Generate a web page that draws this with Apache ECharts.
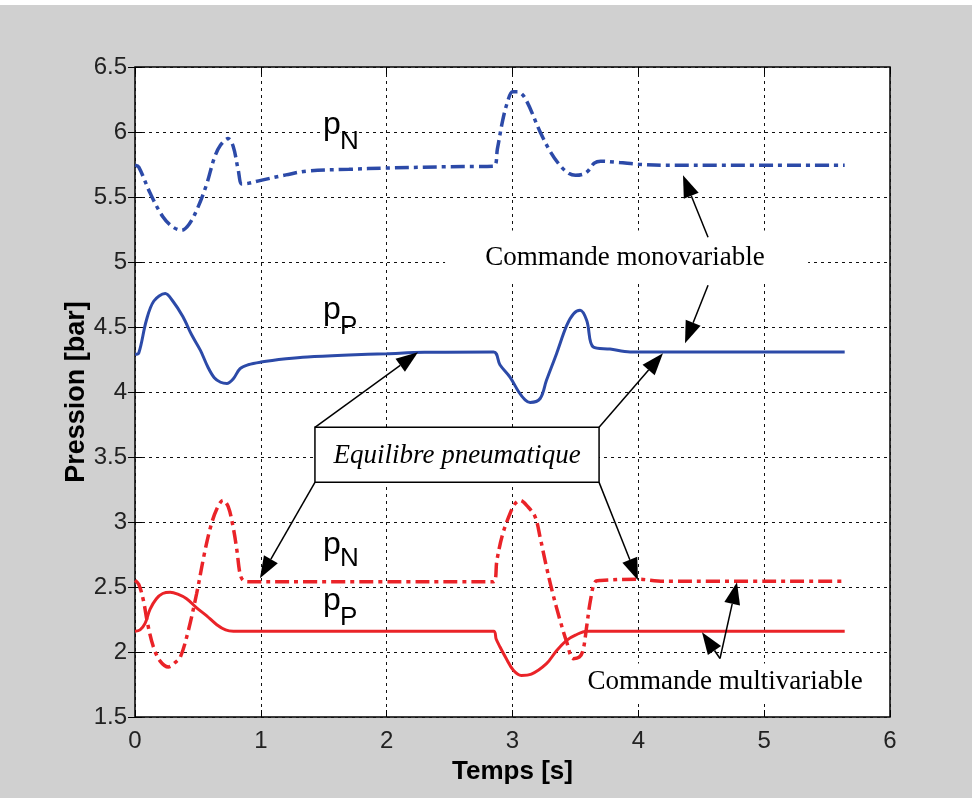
<!DOCTYPE html>
<html><head><meta charset="utf-8">
<script src="https://cdn.jsdelivr.net/npm/echarts@6/dist/echarts.min.js"></script>
<style>html,body{margin:0;padding:0;background:#fff;}#c{width:972px;height:798px;}</style>
</head><body><div id="c"></div>
<script>
// ---- data (time [s], pressure [bar]) ----
const xTicks = [0, 1, 2, 3, 4, 5, 6];
const yTicks = [1.5, 2, 2.5, 3, 3.5, 4, 4.5, 5, 5.5, 6, 6.5];

const monoPN = [[0,5.744],[0.03,5.73],[0.12,5.53],[0.22,5.35],[0.3,5.27],[0.37,5.244],[0.43,5.29],[0.5,5.42],[0.57,5.60],[0.63,5.80],[0.68,5.90],[0.74,5.95],[0.78,5.89],[0.82,5.71],[0.85,5.60],[0.9,5.605],[1.0,5.628],[1.2,5.67],[1.37,5.70],[1.7,5.713],[2.0,5.723],[2.5,5.733],[2.85,5.737],[2.88,5.87],[2.92,6.08],[2.96,6.23],[3.0,6.31],[3.04,6.31],[3.1,6.26],[3.22,6.0],[3.3,5.85],[3.38,5.74],[3.45,5.68],[3.5,5.667],[3.56,5.675],[3.6,5.70],[3.65,5.76],[3.7,5.775],[3.85,5.765],[4.0,5.752],[4.23,5.744],[5.64,5.744]];

const monoPP = [[0,4.29],[0.03,4.30],[0.09,4.55],[0.15,4.70],[0.24,4.757],[0.3,4.70],[0.38,4.58],[0.45,4.44],[0.52,4.32],[0.58,4.19],[0.63,4.11],[0.68,4.075],[0.73,4.065],[0.78,4.10],[0.835,4.18],[0.9,4.21],[1.0,4.23],[1.2,4.255],[1.37,4.27],[1.7,4.285],[2.0,4.295],[2.3,4.305],[2.85,4.308],[2.9,4.21],[2.98,4.115],[3.05,4.00],[3.1,3.94],[3.14,3.92],[3.22,3.95],[3.27,4.09],[3.35,4.295],[3.43,4.51],[3.484,4.60],[3.537,4.628],[3.59,4.55],[3.642,4.346],[3.775,4.33],[3.935,4.308],[5.64,4.308]];

const multiPN = [[0,2.551],[0.03,2.52],[0.066,2.40],[0.1,2.22],[0.146,2.04],[0.2,1.93],[0.265,1.885],[0.32,1.92],[0.36,1.96],[0.42,2.15],[0.49,2.45],[0.55,2.75],[0.6,2.96],[0.65,3.10],[0.70,3.167],[0.74,3.12],[0.78,2.96],[0.81,2.78],[0.835,2.60],[0.86,2.55],[0.9,2.54],[1.2,2.54],[2.85,2.54],[2.876,2.705],[2.92,2.90],[2.98,3.065],[3.02,3.14],[3.06,3.167],[3.12,3.12],[3.18,3.04],[3.22,2.88],[3.27,2.654],[3.32,2.45],[3.378,2.244],[3.43,2.08],[3.484,1.949],[3.53,1.96],[3.56,2.01],[3.59,2.20],[3.62,2.40],[3.657,2.54],[3.7,2.55],[3.99,2.56],[4.2,2.545],[5.64,2.545]];

const multiPP = [[0,2.16],[0.04,2.17],[0.08,2.22],[0.12,2.33],[0.17,2.41],[0.22,2.45],[0.28,2.46],[0.34,2.445],[0.41,2.41],[0.49,2.34],[0.568,2.28],[0.65,2.21],[0.72,2.17],[0.782,2.16],[2.85,2.16],[2.87,2.10],[2.9,2.04],[2.95,1.95],[3.007,1.86],[3.07,1.82],[3.15,1.83],[3.27,1.91],[3.35,2.01],[3.43,2.09],[3.5,2.13],[3.59,2.16],[5.64,2.16]];

// ---- annotations (data coordinates) ----
const curveLabels = [
  {main:'p', sub:'N', at:[1.494, 6.052], subAt:[1.629, 5.921]},
  {main:'p', sub:'P', at:[1.494, 4.628], subAt:[1.629, 4.498]},
  {main:'p', sub:'N', at:[1.494, 2.821], subAt:[1.629, 2.713]},
  {main:'p', sub:'P', at:[1.494, 2.39],  subAt:[1.629, 2.263]}
];
const notes = [
  {text:'Commande monovariable', at:[3.894, 5.028], box:[[2.464,5.243],[5.349,4.835]], frame:false, italic:false},
  {text:'Equilibre pneumatique', at:[2.559, 3.512], box:[[1.43,3.728],[3.688,3.305]], frame:true, italic:true},
  {text:'Commande multivariable', at:[4.689, 1.767], box:[[3.537,1.911],[5.841,1.604]], frame:false, italic:false}
];
const arrows = [
  [[4.554,5.19],[4.355,5.667]],
  [[4.554,4.821],[4.371,4.375]],
  [[1.43,3.728],[2.249,4.305]],
  [[1.43,3.305],[0.993,2.567]],
  [[3.688,3.728],[4.196,4.298]],
  [[3.688,3.305],[3.997,2.552]],
  [[4.649,1.95],[4.784,2.536]],
  [[4.649,1.95],[4.506,2.151]]
];

const BLUE = '#2c4aa8', RED = '#ea2328';
const DASHDOT = [14, 5, 4, 5];
const chart = echarts.init(document.getElementById('c'));
const tickFont = {fontSize:24, color:'#222', fontFamily:'"Liberation Sans", Arial, sans-serif'};
const gridLine = {show:true, lineStyle:{color:'#111', type:[3,4], width:1}};

function line(name, data, color, dashed){
  return {name, type:'line', data, showSymbol:false, symbol:'none', smooth:0.35,
    lineStyle:{color, width: dashed ? 3.5 : 3, type: dashed ? DASHDOT : 'solid', cap:'butt'}, z:3, silent:true};
}

chart.setOption({
  animation:false,
  backgroundColor:'#d0d0d0',
  grid:{left:135, right:82, top:67, bottom:81, show:true, backgroundColor:'#fff', borderColor:'#000', borderWidth:1.5},
  xAxis:[
    {type:'value', min:xTicks[0], max:xTicks[xTicks.length-1], interval:1,
     axisLine:{show:false}, axisTick:{show:true, inside:true, length:7, lineStyle:{color:'#000'}},
     axisLabel:Object.assign({margin:12}, tickFont), splitLine:gridLine,
     name:'Temps [s]', nameLocation:'middle', nameGap:42,
     nameTextStyle:{fontSize:26, fontWeight:'bold', color:'#000', fontFamily:'"Liberation Sans", Arial, sans-serif'}},
    {type:'value', position:'top', min:xTicks[0], max:xTicks[xTicks.length-1], interval:1,
     axisLine:{show:false}, axisTick:{show:true, inside:true, length:7, lineStyle:{color:'#000'}},
     axisLabel:{show:false}, splitLine:{show:false}}
  ],
  yAxis:[
    {type:'value', min:yTicks[0], max:yTicks[yTicks.length-1], interval:0.5,
     axisLine:{show:false}, axisTick:{show:true, inside:true, length:7, lineStyle:{color:'#000'}},
     axisLabel:Object.assign({margin:8}, tickFont), splitLine:gridLine,
     name:'Pression [bar]', nameLocation:'middle', nameGap:45, nameRotate:90, nameMoveOverlap:false,
     nameTextStyle:{fontSize:27, fontWeight:'bold', color:'#000', fontFamily:'"Liberation Sans", Arial, sans-serif'}},
    {type:'value', position:'right', min:yTicks[0], max:yTicks[yTicks.length-1], interval:0.5,
     axisLine:{show:false}, axisTick:{show:true, inside:true, length:7, lineStyle:{color:'#000'}},
     axisLabel:{show:false}, splitLine:{show:false}}
  ],
  series:[
    line('mono pN', monoPN, BLUE, true),
    line('mono pP', monoPP, BLUE, false),
    line('multi pN', multiPN, RED, true),
    line('multi pP', multiPP, RED, false)
  ]
});

const P = (c) => chart.convertToPixel({xAxisIndex:0, yAxisIndex:0}, c);
const g = [{type:'rect', shape:{x:0,y:0,width:972,height:5}, style:{fill:'#fff'}, z:0}];

curveLabels.forEach(l => {
  const a = P(l.at), b = P(l.subAt);
  g.push({type:'text', x:a[0], y:a[1], z:1, style:{text:l.main, font:'32px "Liberation Sans", Arial, sans-serif', fill:'#000', align:'left', verticalAlign:'middle', backgroundColor:'#fff'}});
  g.push({type:'text', x:b[0], y:b[1], z:1, style:{text:l.sub, font:'26px "Liberation Sans", Arial, sans-serif', fill:'#000', align:'left', verticalAlign:'middle'}});
});

notes.forEach(n => {
  const p1 = P(n.box[0]), p2 = P(n.box[1]), c = P(n.at);
  g.push({type:'rect', z:1, shape:{x:p1[0], y:p1[1], width:p2[0]-p1[0], height:p2[1]-p1[1]},
    style:{fill:'#fff', stroke: n.frame ? '#000' : null, lineWidth: n.frame ? 1.5 : 0}});
  g.push({type:'text', z:5, x:c[0], y:c[1], style:{text:n.text,
    font:(n.italic ? 'italic ' : '') + '27px "Liberation Serif", "Times New Roman", serif',
    fill:'#000', align:'center', verticalAlign:'middle'}});
});

arrows.forEach(ar => {
  const a = P(ar[0]), b = P(ar[1]);
  const dx = b[0]-a[0], dy = b[1]-a[1], len = Math.hypot(dx, dy);
  const ux = dx/len, uy = dy/len, L = 22, W = 8;
  const bx = b[0]-ux*L, by = b[1]-uy*L;
  g.push({type:'line', z:6, shape:{x1:a[0], y1:a[1], x2:bx, y2:by}, style:{stroke:'#000', lineWidth:1.5}});
  g.push({type:'polygon', z:6, shape:{points:[[b[0],b[1]],[bx-uy*W, by+ux*W],[bx+uy*W, by-ux*W]]}, style:{fill:'#000'}});
});

chart.setOption({graphic:g});
</script></body></html>
